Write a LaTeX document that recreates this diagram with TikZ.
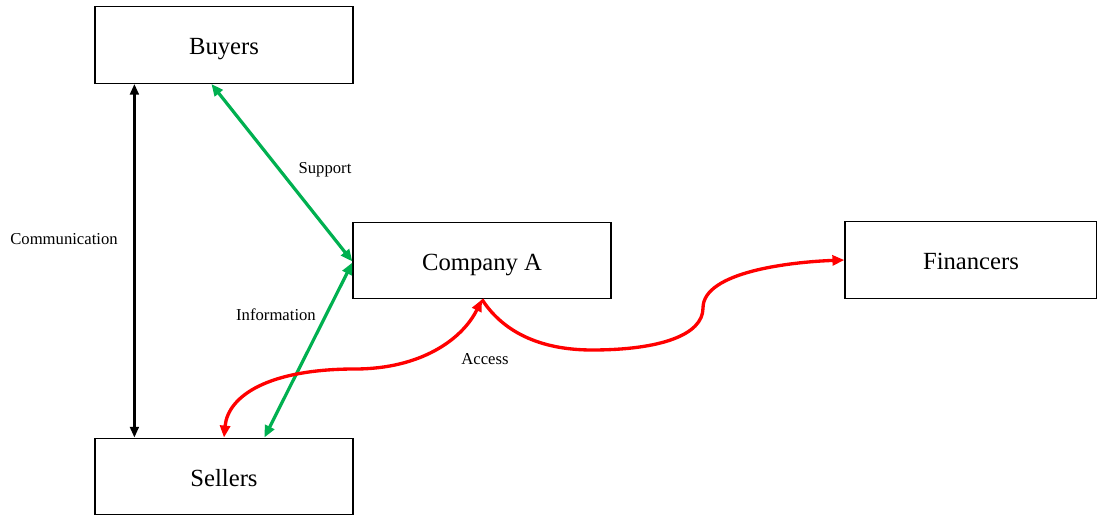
\documentclass[tikz,border=0pt]{standalone}
\usepackage{fontspec}
\setmainfont{Liberation Serif}
\usetikzlibrary{arrows.meta,calc}
\definecolor{offgreen}{RGB}{0,176,80}
\definecolor{offred}{RGB}{255,0,0}
\tikzset{
  bighead/.tip={Triangle[length=9pt,width=7.5pt]},
  smallhead/.tip={Triangle[length=8pt,width=6.5pt]},
  entity/.style={draw=black, line width=0.9pt, fill=white, inner sep=0pt,
    text height=18pt, text depth=3pt,
    minimum height=57.5pt, font=\fontsize{18.5}{22}\selectfont},
  lbl/.style={font=\fontsize{12.5}{15}\selectfont, inner sep=0pt},
  comm/.style={smallhead-smallhead, line width=1.9pt, black},
  greenlink/.style={bighead-bighead, line width=2.4pt, offgreen},
  redlink/.style={line width=2.5pt, offred},
}
\begin{document}
\begin{tikzpicture}[x=0.75pt,y=-0.75pt]
\useasboundingbox (0,0) rectangle (1097,516);
% the four parties
\node[entity, minimum width=193.5pt] (buyers) at (224,45) {Buyers};
\node[entity, minimum width=193.5pt] (company) at (482,260.5) {Company A};
\node[entity, minimum width=189pt] (financers) at (971,260) {Financers};
\node[entity, minimum width=193.5pt] (sellers) at (224,476.5) {Sellers};
% buyers <-> sellers
\draw[comm] ($(buyers.south west)+(40,0)$) -- ($(sellers.north west)+(40,0)$);
% buyers/sellers <-> company
\draw[greenlink] ($(buyers.south west)+(117,0)$) -- ($(company.west)+(0,1)$);
\draw[greenlink] ($(sellers.north west)+(170,0)$) -- ($(company.west)+(0,2)$);
% access links from the company
\draw[redlink, bighead-bighead]
  (company.south) .. controls (462,340) and (420,369) .. (355,369)
  .. controls (270,369) and (228,395) .. (sellers.north);
\draw[redlink, -bighead]
  (company.south) .. controls (505,335) and (545,350) .. (592,350)
  .. controls (660,350) and (703,335) .. (703,308)
  .. controls (703,272) and (790,262) .. (financers.west);
% link labels
\node[lbl] (support) at (325,170) {Support};
\node[lbl] (communication) at (64,239) {Communication};
\node[lbl] (information) at (276,315) {Information};
\node[lbl] (access) at (485,359) {Access};
\end{tikzpicture}
\end{document}
